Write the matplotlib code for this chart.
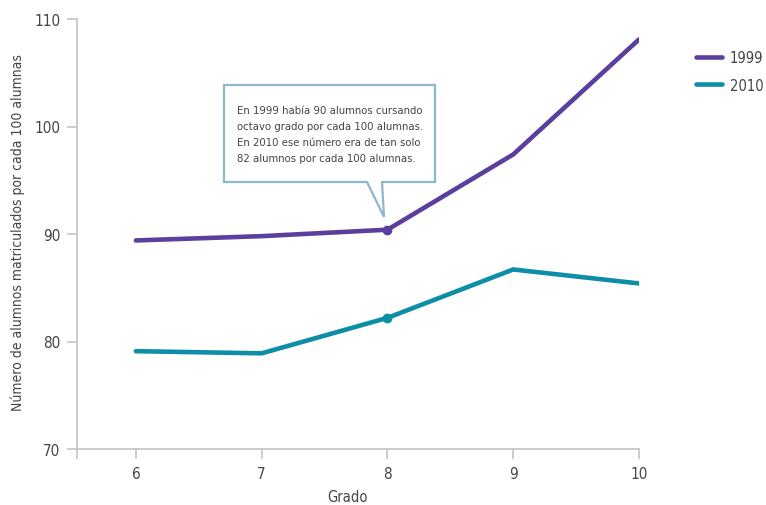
#encoding=utf-8
'''
Alumnos matriculados por cada 100 alumnas, por grado (1999 vs 2010)
'''
import matplotlib
matplotlib.use('Agg')
import matplotlib.pyplot as plt
from matplotlib.patches import Polygon

# datos
grados = [6, 7, 8, 9, 10]
serie_1999 = [89.4, 89.8, 90.4, 97.4, 108.1]
serie_2010 = [79.1, 78.9, 82.2, 86.7, 85.4]
etiquetas = ['1999', '2010']
nota = ('En 1999 había 90 alumnos cursando\n'
        'octavo grado por cada 100 alumnas.\n'
        'En 2010 ese número era de tan solo\n'
        '82 alumnos por cada 100 alumnas.')

# fuente estrecha
plt.rcParams['font.family'] = ['DejaVu Sans']
plt.rcParams['font.stretch'] = 'condensed'
gris = '#c4c4c4'
texto = '#444444'
colores = ['#5b3f9e', '#0d8ea6']

W, H = 766, 506
fig = plt.figure(figsize=(W / 100, H / 100), dpi=100)
ax = fig.add_axes([77 / W, 1 - 450 / H, (639 - 77) / W, (450 - 20) / H])

for serie, c, lab in zip([serie_1999, serie_2010], colores, etiquetas):
    ax.plot(grados, serie, color=c, lw=3.3, solid_capstyle='round',
            solid_joinstyle='round', label=lab, zorder=3)
    # punto en octavo grado
    ax.plot(grados[2], serie[2], 'o', color=c, ms=6, zorder=4)

ax.set_xlim(6 - 59 / 126, 10)
ax.set_ylim(70, 110)
ax.set_xticks(grados)
ax.set_xticks([6 - 59 / 126], minor=True)
ax.set_yticks([70, 80, 90, 100, 110])

for s in ['top', 'right']:
    ax.spines[s].set_visible(False)
for s in ['left', 'bottom']:
    ax.spines[s].set_color(gris)
    ax.spines[s].set_linewidth(1.2)
ax.tick_params(axis='both', which='both', color=gris, width=1.2, length=7,
               labelsize=11, labelcolor=texto, pad=5)

ax.set_xlabel('Grado', fontsize=10.5, color=texto)
ax.xaxis.set_label_coords(0.482, -0.093)
ax.set_ylabel('Número de alumnos matriculados por cada 100 alumnas',
              fontsize=10, color=texto, va='center')
ax.yaxis.set_label_coords(-0.105, 0.505)

# leyenda
leg = fig.legend(loc='upper left', bbox_to_anchor=(683 / W, 1 - 38 / H),
                 frameon=False, fontsize=10.5, handlelength=1.8,
                 labelspacing=0.85, handletextpad=0.5)
for t in leg.get_texts():
    t.set_color(texto)

# cuadro de la nota con su pico
px = lambda x, y: (x / W, 1 - y / H)
caja = [px(224, 86), px(435, 86), px(435, 183), px(382, 183),
        px(384, 218), px(367, 183), px(224, 183)]
fig.patches.append(Polygon(caja, closed=True, transform=fig.transFigure,
                           facecolor='white', edgecolor='#8db8cb', lw=1.6,
                           zorder=5))
fig.text(237 / W, 1 - 106 / H, nota, ha='left', va='top', fontsize=8.1,
         color=texto, linespacing=1.75, zorder=6)

fig.savefig('out.png', dpi=100)
